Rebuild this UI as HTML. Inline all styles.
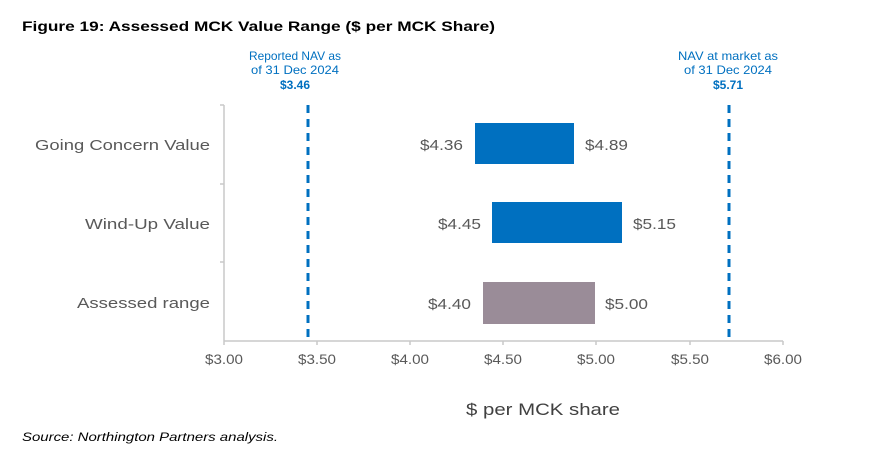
<!DOCTYPE html>
<html><head><meta charset="utf-8"><style>
body{margin:0;background:#fff;width:876px;height:454px;overflow:hidden;font-family:"Liberation Sans",sans-serif}
</style></head><body>
<svg width="876" height="454" xmlns="http://www.w3.org/2000/svg" font-family="Liberation Sans, sans-serif">
<text x="22" y="31" font-size="13.5" font-weight="bold" fill="#000" textLength="473" lengthAdjust="spacingAndGlyphs">Figure 19: Assessed MCK Value Range ($ per MCK Share)</text>
<g stroke="#c8c8c8" stroke-width="1.5">
<line x1="224" y1="105" x2="224" y2="341"/>
<line x1="224" y1="341" x2="783" y2="341"/>
<line x1="220" y1="105" x2="224" y2="105"/>
<line x1="220" y1="184" x2="224" y2="184"/>
<line x1="220" y1="262" x2="224" y2="262"/>
<line x1="224" y1="341" x2="224" y2="345"/>
<line x1="317" y1="341" x2="317" y2="345"/>
<line x1="410" y1="341" x2="410" y2="345"/>
<line x1="503" y1="341" x2="503" y2="345"/>
<line x1="596" y1="341" x2="596" y2="345"/>
<line x1="690" y1="341" x2="690" y2="345"/>
<line x1="783" y1="341" x2="783" y2="345"/>
</g>
<g font-size="13.5" fill="#595959" text-anchor="middle">
<text x="224" y="364" textLength="38" lengthAdjust="spacingAndGlyphs">$3.00</text><text x="317" y="364" textLength="38" lengthAdjust="spacingAndGlyphs">$3.50</text><text x="410" y="364" textLength="38" lengthAdjust="spacingAndGlyphs">$4.00</text>
<text x="503" y="364" textLength="38" lengthAdjust="spacingAndGlyphs">$4.50</text><text x="596" y="364" textLength="38" lengthAdjust="spacingAndGlyphs">$5.00</text><text x="690" y="364" textLength="38" lengthAdjust="spacingAndGlyphs">$5.50</text><text x="783" y="364" textLength="38" lengthAdjust="spacingAndGlyphs">$6.00</text>
</g>
<g font-size="15" fill="#595959" text-anchor="end">
<text x="210" y="150" textLength="175" lengthAdjust="spacingAndGlyphs">Going Concern Value</text>
<text x="210" y="229" textLength="125" lengthAdjust="spacingAndGlyphs">Wind-Up Value</text>
<text x="210" y="308" textLength="133" lengthAdjust="spacingAndGlyphs">Assessed range</text>
</g>
<rect x="475" y="123" width="99" height="41" fill="#0070c0"/>
<rect x="492" y="202" width="130" height="41" fill="#0070c0"/>
<rect x="483" y="282" width="112" height="42" fill="#9a8c98"/>
<g font-size="15" fill="#595959">
<text x="463" y="150" text-anchor="end" textLength="43" lengthAdjust="spacingAndGlyphs">$4.36</text><text x="585" y="150" textLength="43" lengthAdjust="spacingAndGlyphs">$4.89</text>
<text x="481" y="229" text-anchor="end" textLength="43" lengthAdjust="spacingAndGlyphs">$4.45</text><text x="633" y="229" textLength="43" lengthAdjust="spacingAndGlyphs">$5.15</text>
<text x="471" y="309" text-anchor="end" textLength="43" lengthAdjust="spacingAndGlyphs">$4.40</text><text x="605" y="309" textLength="43" lengthAdjust="spacingAndGlyphs">$5.00</text>
</g>
<g stroke="#0070c0" stroke-width="3" stroke-dasharray="8,6">
<line x1="308" y1="105" x2="308" y2="341"/>
<line x1="729" y1="105" x2="729" y2="341"/>
</g>
<g font-size="12" fill="#0070c0" text-anchor="middle">
<text x="295" y="60" textLength="92" lengthAdjust="spacingAndGlyphs">Reported NAV as</text><text x="295" y="74" textLength="88" lengthAdjust="spacingAndGlyphs">of 31 Dec 2024</text><text x="295" y="89" font-weight="bold">$3.46</text>
<text x="728" y="60" textLength="100" lengthAdjust="spacingAndGlyphs">NAV at market as</text><text x="728" y="74" textLength="88" lengthAdjust="spacingAndGlyphs">of 31 Dec 2024</text><text x="728" y="89" font-weight="bold">$5.71</text>
</g>
<text x="543" y="415" font-size="17" fill="#404040" text-anchor="middle" textLength="154" lengthAdjust="spacingAndGlyphs">$ per MCK share</text>
<text x="22" y="441" font-size="11.5" font-style="italic" fill="#000" textLength="256" lengthAdjust="spacingAndGlyphs">Source: Northington Partners analysis.</text>
</svg>
</body></html>
